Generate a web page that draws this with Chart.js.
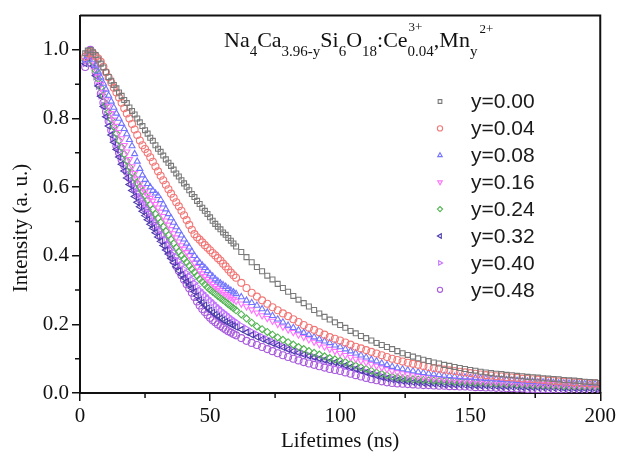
<!DOCTYPE html>
<html>
<head>
<meta charset="utf-8">
<script src="https://cdn.jsdelivr.net/npm/chart.js@4/dist/chart.umd.min.js"></script>
<style>
html,body{margin:0;padding:0;background:#fff;}
#wrap{width:619px;height:463px;}
</style>
</head>
<body>
<div id="wrap"><canvas id="c" width="619" height="463"></canvas></div>
<script>
// ---- data ----
// sampling times (ns): 1 ns steps up to 60 ns, 2 ns steps afterwards
const times = [2,3,4,5,6,7,8,9,10,11,12,13,14,15,16,17,18,19,20,21,
22,23,24,25,26,27,28,29,30,31,32,33,34,35,36,37,38,39,40,41,
42,43,44,45,46,47,48,49,50,51,52,53,54,55,56,57,58,59,60,
62,64,66,68,70,72,74,76,78,80,
82,84,86,88,90,92,94,96,98,100,102,104,106,108,110,112,114,116,118,120,
122,124,126,128,130,132,134,136,138,140,142,144,146,148,150,152,154,156,158,160,
162,164,166,168,170,172,174,176,178,180,182,184,186,188,190,192,194,196,198,200];

const seriesLabels = ["y=0.00","y=0.04","y=0.08","y=0.16","y=0.24","y=0.32","y=0.40","y=0.48"];

const y000 = [0.99,0.998,1.00,0.993,0.985,0.972,0.96,0.949,0.935,0.921,
0.91,0.898,0.888,0.876,0.866,0.854,0.845,0.832,0.822,0.812,
0.80,0.789,0.778,0.766,0.756,0.744,0.735,0.722,0.712,0.703,
0.692,0.681,0.671,0.662,0.651,0.64,0.631,0.62,0.611,0.601,
0.591,0.58,0.571,0.56,0.551,0.54,0.531,0.522,0.512,0.502,
0.493,0.485,0.477,0.468,0.461,0.452,0.444,0.436,0.427,
0.411,0.396,0.381,0.367,0.355,0.342,0.331,0.318,0.306,0.295,
0.283,0.272,0.262,0.252,0.242,0.232,0.222,0.214,0.206,0.198,
0.190,0.181,0.174,0.166,0.160,0.153,0.146,0.140,0.134,0.128,
0.122,0.116,0.111,0.106,0.101,0.097,0.093,0.089,0.086,0.082,
0.079,0.076,0.073,0.070,0.067,0.065,0.062,0.060,0.058,0.056,
0.055,0.053,0.052,0.050,0.049,0.047,0.046,0.045,0.043,0.042,
0.041,0.040,0.038,0.037,0.036,0.035,0.033,0.032,0.031,0.029];

const y004 = [0.98,0.99,0.995,0.99,0.982,0.975,0.965,0.951,0.935,0.92,
0.905,0.89,0.876,0.861,0.846,0.83,0.815,0.8,0.784,0.768,
0.752,0.736,0.722,0.711,0.70,0.687,0.674,0.66,0.646,0.633,
0.62,0.607,0.594,0.581,0.569,0.556,0.544,0.531,0.518,0.504,
0.49,0.476,0.463,0.454,0.447,0.439,0.431,0.423,0.416,0.408,
0.401,0.393,0.386,0.377,0.369,0.36,0.351,0.343,0.336,
0.321,0.306,0.292,0.281,0.270,0.260,0.250,0.241,0.232,0.224,
0.215,0.207,0.198,0.190,0.184,0.177,0.170,0.163,0.158,0.153,
0.147,0.141,0.135,0.130,0.125,0.120,0.115,0.110,0.105,0.100,
0.096,0.092,0.088,0.085,0.082,0.079,0.076,0.073,0.071,0.068,
0.066,0.064,0.062,0.060,0.058,0.056,0.054,0.052,0.051,0.049,
0.048,0.046,0.045,0.044,0.042,0.041,0.040,0.039,0.038,0.036,
0.035,0.034,0.033,0.032,0.031,0.030,0.029,0.028,0.028,0.027];

const y008 = [0.97,0.985,0.99,0.972,0.955,0.937,0.92,0.902,0.885,0.867,
0.85,0.832,0.815,0.8,0.785,0.77,0.755,0.738,0.72,0.697,
0.675,0.654,0.635,0.622,0.61,0.6,0.59,0.582,0.575,0.563,
0.55,0.536,0.522,0.51,0.497,0.484,0.472,0.46,0.448,0.436,
0.425,0.412,0.40,0.39,0.38,0.372,0.365,0.356,0.347,0.34,
0.332,0.326,0.32,0.315,0.31,0.304,0.299,0.294,0.289,
0.28,0.27,0.263,0.255,0.245,0.235,0.225,0.215,0.206,0.197,
0.19,0.183,0.176,0.17,0.163,0.157,0.151,0.146,0.139,0.134,
0.128,0.122,0.116,0.11,0.104,0.098,0.093,0.087,0.082,0.077,
0.073,0.07,0.067,0.064,0.061,0.059,0.057,0.055,0.053,0.051,
0.05,0.048,0.047,0.046,0.045,0.044,0.043,0.042,0.041,0.04,
0.039,0.038,0.037,0.036,0.035,0.034,0.033,0.032,0.032,0.031,
0.03,0.029,0.029,0.028,0.028,0.027,0.027,0.026,0.026,0.025];

const y016 = [0.97,0.984,0.99,0.968,0.945,0.922,0.90,0.877,0.855,0.835,
0.815,0.796,0.778,0.76,0.742,0.722,0.703,0.681,0.66,0.641,
0.624,0.61,0.598,0.587,0.577,0.568,0.56,0.55,0.54,0.528,
0.515,0.502,0.49,0.477,0.465,0.453,0.441,0.43,0.42,0.41,
0.40,0.39,0.379,0.367,0.356,0.348,0.34,0.332,0.325,0.318,
0.311,0.305,0.299,0.293,0.288,0.283,0.278,0.273,0.268,
0.26,0.252,0.243,0.234,0.226,0.218,0.21,0.201,0.193,0.185,
0.177,0.17,0.163,0.156,0.149,0.142,0.135,0.128,0.122,0.116,
0.11,0.104,0.099,0.094,0.089,0.084,0.079,0.074,0.069,0.064,
0.06,0.057,0.054,0.051,0.049,0.047,0.045,0.043,0.042,0.041,
0.04,0.039,0.038,0.037,0.036,0.035,0.034,0.033,0.032,0.032,
0.031,0.03,0.03,0.029,0.028,0.028,0.027,0.026,0.026,0.025,
0.025,0.024,0.024,0.023,0.023,0.022,0.022,0.021,0.021,0.02];

const y024 = [0.97,0.983,0.99,0.965,0.94,0.915,0.89,0.866,0.842,0.819,
0.797,0.776,0.756,0.736,0.716,0.696,0.677,0.659,0.642,0.627,
0.612,0.6,0.588,0.576,0.563,0.549,0.535,0.522,0.51,0.497,
0.485,0.472,0.46,0.448,0.436,0.424,0.412,0.401,0.391,0.381,
0.371,0.361,0.352,0.342,0.332,0.324,0.316,0.308,0.301,0.295,
0.289,0.283,0.277,0.271,0.265,0.259,0.253,0.247,0.241,
0.229,0.217,0.205,0.194,0.186,0.178,0.17,0.162,0.155,0.148,
0.141,0.134,0.128,0.122,0.117,0.112,0.107,0.102,0.098,0.094,
0.09,0.085,0.08,0.075,0.07,0.065,0.06,0.056,0.052,0.048,
0.045,0.043,0.041,0.04,0.039,0.038,0.037,0.036,0.035,0.034,
0.034,0.033,0.032,0.032,0.031,0.03,0.03,0.029,0.028,0.028,
0.027,0.026,0.026,0.025,0.025,0.024,0.023,0.023,0.022,0.022,
0.021,0.021,0.02,0.02,0.02,0.019,0.019,0.019,0.018,0.018];

const y032 = [0.96,0.975,0.98,0.953,0.925,0.895,0.865,0.835,0.805,0.778,
0.752,0.731,0.71,0.688,0.667,0.647,0.627,0.608,0.59,0.573,
0.556,0.543,0.53,0.517,0.505,0.492,0.48,0.467,0.455,0.442,
0.43,0.417,0.405,0.392,0.38,0.368,0.356,0.345,0.335,0.325,
0.315,0.305,0.295,0.283,0.272,0.264,0.256,0.248,0.241,0.235,
0.229,0.223,0.218,0.213,0.208,0.204,0.2,0.196,0.192,
0.185,0.177,0.17,0.163,0.157,0.151,0.145,0.139,0.133,0.127,
0.122,0.117,0.112,0.108,0.104,0.1,0.096,0.092,0.089,0.085,
0.08,0.075,0.07,0.065,0.06,0.055,0.05,0.046,0.042,0.039,
0.037,0.035,0.033,0.031,0.03,0.029,0.028,0.027,0.026,0.025,
0.025,0.024,0.024,0.023,0.022,0.022,0.021,0.021,0.02,0.02,
0.019,0.019,0.018,0.018,0.017,0.017,0.016,0.016,0.016,0.015,
0.015,0.015,0.014,0.014,0.014,0.013,0.013,0.013,0.012,0.012];

const y040 = [0.96,0.978,0.985,0.953,0.922,0.894,0.866,0.839,0.812,0.789,
0.766,0.746,0.726,0.706,0.686,0.668,0.65,0.632,0.615,0.6,
0.585,0.572,0.56,0.547,0.535,0.522,0.51,0.497,0.485,0.472,
0.46,0.447,0.435,0.422,0.41,0.397,0.385,0.373,0.361,0.35,
0.34,0.33,0.32,0.31,0.30,0.292,0.285,0.277,0.27,0.263,
0.256,0.249,0.242,0.236,0.23,0.224,0.218,0.212,0.207,
0.197,0.188,0.179,0.171,0.164,0.157,0.15,0.143,0.137,0.131,
0.125,0.12,0.115,0.11,0.105,0.1,0.095,0.09,0.085,0.081,
0.077,0.073,0.069,0.065,0.061,0.057,0.053,0.049,0.045,0.042,
0.04,0.038,0.037,0.036,0.035,0.034,0.033,0.032,0.031,0.031,
0.03,0.03,0.029,0.029,0.028,0.027,0.027,0.026,0.025,0.025,
0.024,0.023,0.023,0.022,0.021,0.021,0.02,0.02,0.019,0.019,
0.018,0.018,0.017,0.017,0.017,0.016,0.016,0.016,0.015,0.015];

const y048 = [0.95,0.985,1.0,0.968,0.935,0.903,0.872,0.846,0.82,0.793,
0.766,0.742,0.72,0.70,0.68,0.662,0.645,0.627,0.61,0.595,
0.58,0.565,0.55,0.538,0.525,0.512,0.5,0.487,0.474,0.46,
0.445,0.43,0.415,0.4,0.385,0.37,0.356,0.343,0.33,0.317,
0.305,0.292,0.28,0.267,0.255,0.245,0.236,0.227,0.219,0.212,
0.206,0.2,0.195,0.19,0.185,0.18,0.176,0.172,0.168,
0.16,0.152,0.146,0.14,0.134,0.128,0.122,0.116,0.11,0.105,
0.1,0.095,0.09,0.086,0.082,0.078,0.074,0.07,0.067,0.064,
0.06,0.056,0.052,0.048,0.044,0.04,0.037,0.034,0.031,0.029,
0.028,0.027,0.026,0.025,0.024,0.023,0.023,0.022,0.021,0.021,
0.02,0.02,0.019,0.019,0.018,0.017,0.017,0.016,0.016,0.015,
0.015,0.014,0.014,0.013,0.013,0.012,0.012,0.011,0.011,0.011,
0.01,0.01,0.01,0.009,0.009,0.009,0.009,0.008,0.008,0.008];

const xTickLabels = [0,50,100,150,200];
const yTickLabels = [0.0,0.2,0.4,0.6,0.8,1.0];

// ---- styles ----
const colors = ['#7a7a7a','#f27878','#7474ff','#ff72ff','#52b452','#4c3cac','#c272ff','#a85cdc'];
const styles = ['rect','circle','triangle','triangle','rectRot','triangle','triangle','circle'];
const rotations = [0,0,0,180,0,-90,90,0];
const values = [y000,y004,y008,y016,y024,y032,y040,y048];

const datasets = values.map((arr,i)=>({
  label: seriesLabels[i],
  data: arr.map((v,k)=>({x:times[k], y:v})),
  showLine:false,
  borderColor: colors[i],
  backgroundColor: 'rgba(0,0,0,0)',
  pointStyle: styles[i],
  rotation: rotations[i],
  pointRadius: 3.5,
  pointBorderWidth: 1.1,
  pointHoverRadius: 3.5
}));

const serif = '"Liberation Serif","Times New Roman",serif';
const sans = '"Liberation Sans",Arial,sans-serif';

const decor = {
  id:'decor',
  afterDraw(chart){
    const ctx = chart.ctx, a = chart.chartArea;
    const xs = chart.scales.x, ys = chart.scales.y;
    ctx.save();
    // frame top & right
    ctx.strokeStyle='#111'; ctx.lineWidth=2;
    ctx.beginPath();
    ctx.moveTo(a.left, a.top); ctx.lineTo(a.right, a.top); ctx.lineTo(a.right, a.bottom);
    ctx.stroke();
    // minor ticks
    ctx.lineWidth=1.5;
    ctx.beginPath();
    [25,75,125,175].forEach(v=>{const p=xs.getPixelForValue(v); ctx.moveTo(p,a.bottom); ctx.lineTo(p,a.bottom+5);});
    [0.1,0.3,0.5,0.7,0.9].forEach(v=>{const p=ys.getPixelForValue(v); ctx.moveTo(a.left,p); ctx.lineTo(a.left-5,p);});
    ctx.stroke();
    // axis titles
    ctx.fillStyle='#111';
    ctx.font='21px '+serif;
    ctx.textAlign='center'; ctx.textBaseline='middle';
    ctx.fillText('Lifetimes (ns)', (a.left+a.right)/2, 441);
    ctx.save();
    ctx.translate(21, 228); ctx.rotate(-Math.PI/2);
    ctx.fillText('Intensity (a. u.)', 0, 0);
    ctx.restore();
    // title with sub/superscripts
    ctx.textAlign='left'; ctx.textBaseline='alphabetic';
    const big='22px '+serif, small='15px '+serif, tiny='13px '+serif;
    let x=224; const base=47, sub=56, sup=31;
    function put(t,f,y){ctx.font=f; ctx.fillText(t,x,y); return ctx.measureText(t).width;}
    x+=put('Na',big,base);
    x+=put('4',small,sub);
    x+=put('Ca',big,base);
    x+=put('3.96-y',small,sub);
    x+=put('Si',big,base);
    x+=put('6',small,sub);
    x+=put('O',big,base);
    x+=put('18',small,sub);
    x+=put(':Ce',big,base);
    const x0=x;
    const w1=put('0.04',small,sub);
    x=x0+1; put('3+',tiny,sup); x=x0+w1;
    x+=put(',',big,base);
    x+=put('Mn',big,base);
    x+=put('y',small,sub);
    x+=2;
    put('2+',tiny,sup+2);
    // legend
    const lx=440, tx=471, ly0=101.5, dy=26.9;
    seriesLabels.forEach((lab,i)=>{
      const y=ly0+i*dy;
      ctx.strokeStyle=colors[i]; ctx.fillStyle='rgba(0,0,0,0)'; ctx.lineWidth=1.1;
      Chart.helpers.drawPoint(ctx,{pointStyle:styles[i],rotation:rotations[i],radius:2.6,borderWidth:1.1},lx,y);
      ctx.fillStyle='#1a1a1a'; ctx.font='21px '+sans; ctx.textBaseline='middle';
      ctx.fillText(lab,tx,y+1);
    });
    ctx.restore();
  }
};

new Chart(document.getElementById('c'),{
  type:'scatter',
  data:{datasets},
  options:{
    responsive:false,
    animation:false,
    layout:{padding:{top:14,right:17,left:0,bottom:0}},
    plugins:{legend:{display:false},tooltip:{enabled:false}},
    scales:{
      x:{type:'linear',min:0,max:200,
        ticks:{stepSize:50,autoSkip:false,maxRotation:0,padding:3,color:'#111',font:{family:serif,size:21},
          callback:(v)=> xTickLabels.includes(v)? String(v):''},
        grid:{drawOnChartArea:false,drawTicks:true,tickLength:8,color:'#111',lineWidth:1.5},
        border:{color:'#111',width:2},
        afterFit(s){s.height=70;}
      },
      y:{min:0,max:1.1,
        ticks:{stepSize:0.2,autoSkip:false,padding:3,color:'#111',font:{family:serif,size:21},
          callback:(v)=>{const r=Math.round(v*10)/10; return yTickLabels.includes(r)? r.toFixed(1):'';}},
        afterBuildTicks(s){ s.ticks = yTickLabels.map(v=>({value:v})); },
        grid:{drawOnChartArea:false,drawTicks:true,tickLength:8,color:'#111',lineWidth:1.5},
        border:{color:'#111',width:2},
        afterFit(s){s.width=80;}
      }
    }
  },
  plugins:[decor]
});
</script>
</body>
</html>
